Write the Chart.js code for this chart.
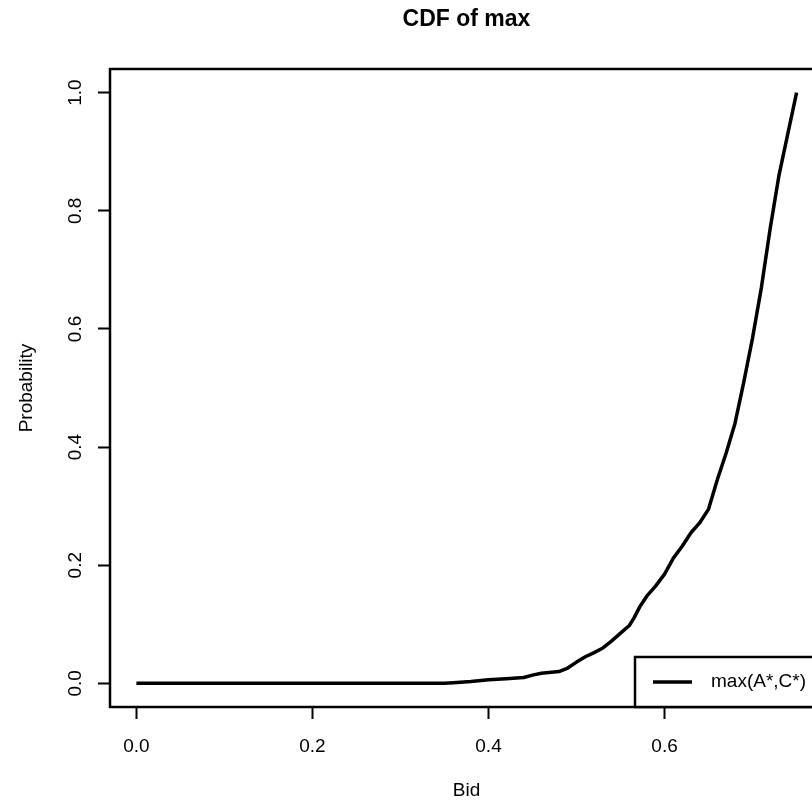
<!DOCTYPE html>
<html>
<head>
<meta charset="utf-8">
<script src="https://cdn.jsdelivr.net/npm/chart.js@4/dist/chart.umd.min.js"></script>
<style>
html, body { margin: 0; padding: 0; background: #fff; overflow: hidden; }
#wrap { width: 812px; height: 802px; overflow: hidden; }
</style>
</head>
<body>
<div id="wrap">
<canvas id="cdfChart" width="840" height="802"></canvas>
</div>
<script>

// ECDF of max(A*,C*)
const bids = [0, 0.35, 0.36, 0.38, 0.40, 0.42, 0.44, 0.45, 0.46, 0.48, 0.49, 0.50, 0.51, 0.52, 0.53, 0.54, 0.55, 0.56, 0.565, 0.572, 0.58, 0.59, 0.60, 0.61, 0.62, 0.63, 0.64, 0.65, 0.66, 0.67, 0.68, 0.69, 0.70, 0.71, 0.72, 0.73, 0.74, 0.75];

const probs = [0, 0, 0.001, 0.003, 0.006, 0.008, 0.010, 0.014, 0.017, 0.020, 0.026, 0.036, 0.045, 0.052, 0.060, 0.072, 0.085, 0.098, 0.11, 0.13, 0.148, 0.165, 0.185, 0.212, 0.232, 0.255, 0.272, 0.295, 0.345, 0.39, 0.44, 0.51, 0.585, 0.67, 0.77, 0.86, 0.93, 1.0];

const xTicks = [0, 0.2, 0.4, 0.6];
const yTicks = [0, 0.2, 0.4, 0.6, 0.8, 1.0];

const seriesName = "max(A*,C*)";

const font = "'Liberation Sans', Arial, Helvetica, sans-serif";


// R style box around the plot and legend in the bottom right corner
const frameAndLegend = {
  id: "frameAndLegend",
  afterDraw(chart) {
    const ctx = chart.ctx;
    const a = chart.chartArea;
    ctx.save();
    ctx.strokeStyle = "#000";
    ctx.lineWidth = 2.5;
    ctx.strokeRect(a.left, a.top, a.right - a.left, a.bottom - a.top);

    const w = 188, h = 50;
    const lx = a.right - w, ly = a.bottom - h;
    ctx.fillStyle = "#fff";
    ctx.fillRect(lx, ly, w, h);
    ctx.strokeRect(lx, ly, w, h);

    const ds = chart.data.datasets[0];
    ctx.beginPath();
    ctx.lineWidth = ds.borderWidth;
    ctx.moveTo(lx + 18, ly + h / 2);
    ctx.lineTo(lx + 57, ly + h / 2);
    ctx.stroke();

    ctx.fillStyle = "#000";
    ctx.font = "19px " + font;
    ctx.textBaseline = "middle";
    ctx.textAlign = "left";
    ctx.fillText(ds.label, lx + 76, ly + h / 2);
    ctx.restore();
  }
};


new Chart(
document.getElementById("cdfChart"),
{
  type: "scatter",
  data: {
    datasets: [{
      label: seriesName,
      data: bids.map((b, i) => ({ x: b, y: probs[i] })),
      showLine: true,
      borderColor: "#000",
      borderWidth: 3.5,
      borderCapStyle: "butt",
      borderJoinStyle: "round",
      pointRadius: 0,
      tension: 0
    }]
  },
  options: {
    responsive: false,
    animation: false,
    layout: { padding: { left: 0, right: 17, top: 0, bottom: 0 } },
    plugins: {
      legend: { display: false },
      tooltip: { enabled: false },
      title: {
        display: true,
        fullSize: false,
        text: "CDF of max",
        color: "#000",
        font: { family: font, size: 23, weight: "bold" },
        padding: { top: 6, bottom: 35.4 }
      }
    },
    scales: {
      x: {
        type: "linear",
        min: -0.03,
        max: 0.78,
        afterBuildTicks: axis => { axis.ticks = xTicks.map(v => ({ value: v })); },
        afterFit: axis => { axis.height = 95; },
        border: { display: false },
        grid: {
          drawOnChartArea: false,
          drawTicks: true,
          tickLength: 12,
          tickWidth: 2,
          tickColor: "#000"
        },
        ticks: {
          color: "#000",
          font: { family: font, size: 19 },
          padding: 16,
          maxRotation: 0,
          callback: v => v.toFixed(1)
        },
        title: {
          display: true,
          text: "Bid",
          color: "#000",
          font: { family: font, size: 19 },
          padding: { top: 0, bottom: 0 }
        }
      },
      y: {
        type: "linear",
        min: -0.04,
        max: 1.04,
        afterBuildTicks: axis => { axis.ticks = yTicks.map(v => ({ value: v })); },
        afterFit: axis => { axis.width = 110; },
        border: { display: false },
        grid: {
          drawOnChartArea: false,
          drawTicks: true,
          tickLength: 12,
          tickWidth: 2,
          tickColor: "#000"
        },
        ticks: {
          color: "#000",
          font: { family: font, size: 19 },
          padding: 9,
          minRotation: 90,
          maxRotation: 90,
          crossAlign: "center",
          callback: v => v.toFixed(1)
        },
        title: {
          display: true,
          text: "Probability",
          color: "#000",
          font: { family: font, size: 19 },
          padding: { top: 15, bottom: 0 }
        }
      }
    }
  },
  plugins: [frameAndLegend]
});

</script>
</body>
</html>
